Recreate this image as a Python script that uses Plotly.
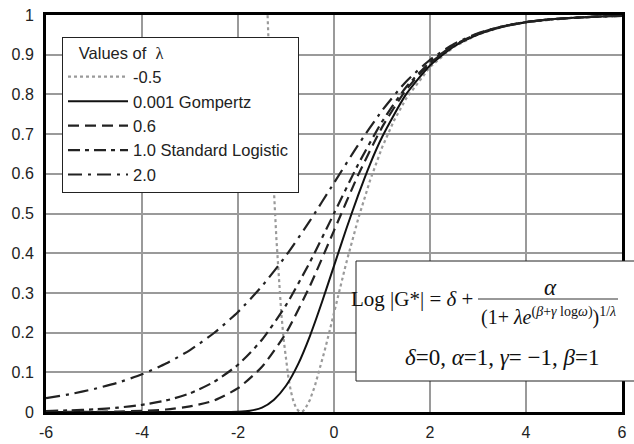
import plotly.graph_objects as go

# ---- data ----
x_common = [-6, -5.5, -5, -4.5, -4, -3.5, -3, -2.5, -2, -1.5, -1, -0.5, 0, 0.5, 1, 1.5, 2, 2.5, 3, 3.5, 4, 4.5, 5, 5.5, 6]

y_lam2 = [0.035, 0.045, 0.058, 0.074, 0.095, 0.122, 0.156, 0.199, 0.252, 0.317, 0.394, 0.482, 0.577,
          0.672, 0.759, 0.832, 0.887, 0.927, 0.954, 0.971, 0.982, 0.989, 0.993, 0.996, 0.998]
y_lam1 = [0.0025, 0.0041, 0.0067, 0.011, 0.018, 0.029, 0.047, 0.076, 0.119, 0.182, 0.269, 0.378, 0.5,
          0.623, 0.731, 0.818, 0.881, 0.924, 0.953, 0.971, 0.982, 0.989, 0.993, 0.996, 0.998]
y_lam06 = [0.0001, 0.0003, 0.0006, 0.0013, 0.0028, 0.0063, 0.014, 0.029, 0.060, 0.114, 0.199, 0.318, 0.457,
           0.596, 0.717, 0.811, 0.878, 0.923, 0.952, 0.971, 0.982, 0.989, 0.993, 0.996, 0.998]

x_gomp = [-6, -4, -3, -2.5, -2, -1.75, -1.5, -1.25, -1, -0.75, -0.5, -0.25, 0, 0.25, 0.5, 0.75, 1, 1.5, 2, 2.5, 3, 3.5, 4, 4.5, 5, 5.5, 6]
y_gomp = [0.0, 0.0, 0.0, 0.0, 0.0006, 0.0032, 0.011, 0.031, 0.066, 0.120, 0.192, 0.277, 0.368, 0.459, 0.545,
          0.624, 0.692, 0.800, 0.873, 0.921, 0.951, 0.970, 0.982, 0.989, 0.993, 0.996, 0.998]

x_neg = [-1.42, -1.4, -1.35, -1.3, -1.25, -1.2, -1.15, -1.1, -1.05, -1.0, -0.95, -0.9, -0.85, -0.8, -0.75, -0.7,
         -0.65, -0.6, -0.55, -0.5, -0.4, -0.3, -0.2, -0.1, 0, 0.1, 0.25, 0.4, 0.5, 0.75, 1, 1.25, 1.5, 2, 2.5,
         3, 3.5, 4, 5, 6]
y_neg = [1.12, 1.057, 0.862, 0.696, 0.555, 0.436, 0.337, 0.252, 0.184, 0.129, 0.086, 0.053, 0.029, 0.013, 0.004, 0.0,
         0.002, 0.008, 0.018, 0.031, 0.065, 0.106, 0.152, 0.200, 0.25, 0.300, 0.373, 0.440, 0.485, 0.583, 0.666,
         0.734, 0.789, 0.869, 0.920, 0.951, 0.970, 0.982, 0.993, 0.998]

x_ticks = [-6, -4, -2, 0, 2, 4, 6]
y_ticks = [0, 0.1, 0.2, 0.3, 0.4, 0.5, 0.6, 0.7, 0.8, 0.9, 1]
y_ticktext = ["0", "0.1", "0.2", "0.3", "0.4", "0.5", "0.6", "0.7", "0.8", "0.9", "1"]

series = [
    ("-0.5", x_neg, y_neg, "#9a9a9a", "dot", 2.2, "linear"),
    ("0.001 Gompertz", x_gomp, y_gomp, "#111111", "solid", 2, "spline"),
    ("0.6", x_common, y_lam06, "#222222", "11px,6px", 2.2, "spline"),
    ("1.0 Standard Logistic\u00a0", x_common, y_lam1, "#222222", "12px,5px,4px,5px", 2.2, "spline"),
    ("2.0", x_common, y_lam2, "#222222", "14px,6px,3px,6px", 2.2, "spline"),
]

# ---- layout geometry ----
W, H = 634, 444
ML, MR, MT, MB = 46, 12, 15, 32
PW, PH = W - ML - MR, H - MT - MB

def px(xp):
    return (xp - ML) / PW

def py(yp):
    return (H - MB - yp) / PH

fig = go.Figure()
for name, xs, ys, col, dash, w, shp in series:
    line = dict(color=col, dash=dash, width=w, shape=shp)
    if shp == "spline":
        line["smoothing"] = 0.6
    fig.add_trace(go.Scatter(x=xs, y=ys, mode="lines", name=name, line=line))

fig.update_layout(
    width=W, height=H,
    margin=dict(l=ML, r=MR, t=MT, b=MB, autoexpand=False),
    paper_bgcolor="white", plot_bgcolor="white",
    font=dict(family="Liberation Sans, Arial", size=16, color="#222"),
    showlegend=True,
    legend=dict(
        x=px(62), y=py(37), xanchor="left", yanchor="top",
        bgcolor="white", bordercolor="#222", borderwidth=1,
        font=dict(family="Liberation Sans, Arial", size=16.5, color="#222"),
        title=dict(text="\u00a0\u00a0\u00a0Values of  <span style='font-family:Liberation Serif'>λ</span>",
                   font=dict(size=16.5)),
        tracegroupgap=0, itemwidth=60,
    ),
    xaxis=dict(range=[-6, 6], tickvals=x_ticks, ticktext=[str(v) for v in x_ticks],
               showgrid=True, gridcolor="#9a9a9a", gridwidth=2,
               showline=True, linecolor="black", linewidth=3, mirror=True, automargin=False,
               zeroline=False, ticks="", tickfont=dict(size=16), ticklabelstandoff=4),
    yaxis=dict(range=[0, 1], tickvals=y_ticks, ticktext=y_ticktext,
               showgrid=True, gridcolor="#9a9a9a", gridwidth=2,
               showline=True, linecolor="black", linewidth=3, mirror=True, automargin=False,
               zeroline=False, ticks="", tickfont=dict(size=16), ticklabelstandoff=6),
)

# formula box
fig.add_shape(type="rect", xref="paper", yref="paper",
              x0=px(356), x1=px(640), y0=py(381), y1=py(261),
              fillcolor="white", line=dict(color="#222", width=1), layer="above")
fig.add_shape(type="line", xref="paper", yref="paper",
              x0=px(478), x1=px(618), y0=py(299), y1=py(299),
              line=dict(color="#333", width=1), layer="above")

serif = "Liberation Serif, Times New Roman, serif"
fig.add_annotation(xref="paper", yref="paper", x=px(349), y=py(299), xanchor="left", yanchor="middle",
                   text="Log |G*| = <i>δ</i> + ", showarrow=False,
                   font=dict(family=serif, size=21, color="#111"))
fig.add_annotation(xref="paper", yref="paper", x=px(550), y=py(287), xanchor="center", yanchor="middle",
                   text="<i>α</i>", showarrow=False,
                   font=dict(family=serif, size=23, color="#111"))
fig.add_annotation(xref="paper", yref="paper", x=px(548), y=py(316), xanchor="center", yanchor="middle",
                   text="(1+ <i>λe</i><sup>(<i>β</i>+<i>γ</i> log<i>ω</i>)</sup>)<sup>1/<i>λ</i></sup>",
                   showarrow=False, font=dict(family=serif, size=20, color="#111"))
fig.add_annotation(xref="paper", yref="paper", x=px(502), y=py(357), xanchor="center", yanchor="middle",
                   text="<i>δ</i>=0, <i>α</i>=1, <i>γ</i>= −1, <i>β</i>=1",
                   showarrow=False, font=dict(family=serif, size=23, color="#111"))

fig.write_html("out.html")
